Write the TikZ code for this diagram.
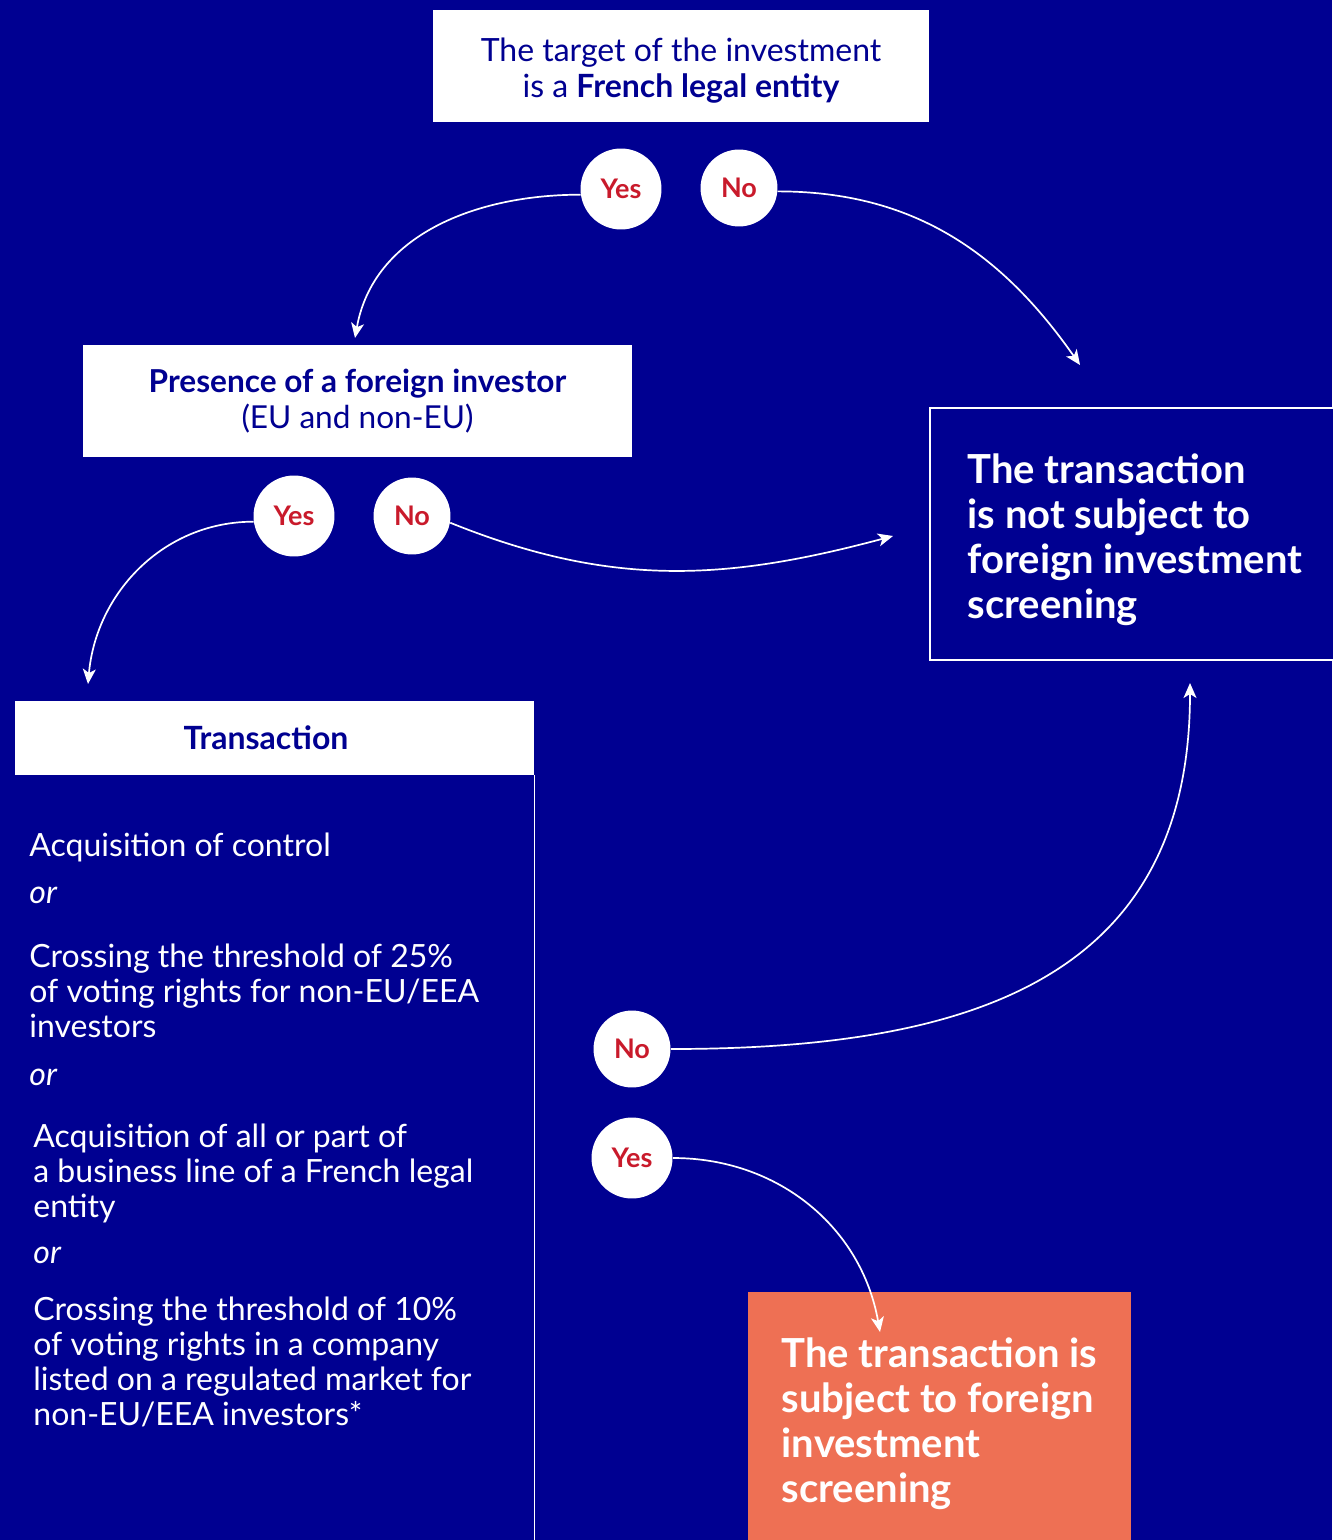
\documentclass[tikz,border=0pt]{standalone}
\usepackage{fontspec}
\setmainfont{Lato}
\usetikzlibrary{arrows.meta, positioning}
\definecolor{navybg}{HTML}{000091}
\definecolor{answred}{HTML}{C91A2B}
\definecolor{coralfill}{HTML}{EE7054}
\tikzset{
  qbox/.style   = {rectangle, fill=white, text=navybg, align=center, inner sep=0pt},
  answer/.style = {circle, fill=white, text=answred, font=\fontsize{13.5}{15}\selectfont\bfseries, inner sep=6.5pt},
  outbox/.style = {rectangle, align=left, text=white, inner xsep=16pt, font=\fontsize{20}{22.5}\selectfont\bfseries},
  crit/.style   = {anchor=base west, align=left, inner sep=0pt, text=white, font=\fontsize{16}{17.5}\selectfont},
  orword/.style = {crit, font=\fontsize{16}{17.5}\selectfont\itshape},
  flow/.style   = {-{Stealth[length=7.5pt, width=6.5pt, inset=2pt]}, draw=white, line width=0.85pt},
}

\begin{document}
\begin{tikzpicture}[x=0.5pt, y=0.5pt]
	\fill[navybg] (0,0) rectangle (1332,-1540);
	\useasboundingbox (0,0) rectangle (1332,-1540);
	\node[qbox, minimum width=248pt, minimum height=56pt, font=\fontsize{16}{18}\selectfont] (target) at (681,-66) {\rule{0pt}{16pt}The target of the investment\\is a \textbf{French legal entity}};
	\node[qbox, minimum width=274.5pt, minimum height=56pt, font=\fontsize{15.8}{18}\selectfont] (presence) at (357.5,-401) {\textbf{Presence of a foreign investor}\\(EU and non-EU)};
	\node[qbox, minimum width=259.5pt, minimum height=37pt, font=\fontsize{16}{18}\selectfont\bfseries] (trans) at (274.5,-738) {Transaction\hspace{8.5pt}};
	\node[outbox, draw=white, line width=0.75pt, fill=navybg, minimum width=205pt, minimum height=126pt] (notsubj) at (1135,-534) {\rule{0pt}{21pt}The transaction\\is not subject to\\foreign investment\\screening};
	\node[outbox, fill=coralfill, minimum width=191.5pt, minimum height=132pt] (subj) at (939.5,-1424) {The transaction is\\subject to foreign\\investment\\screening};
	\draw[white, line width=0.75pt] (trans.south east) -- (trans.south east |- 0,-1540);
	\node[crit] (acqctrl) at (29,-856) {Acquisition of control};
	\node[orword] (orA) at (29,-903) {or};
	\node[crit] (cross25) at (29,-1037) {Crossing the threshold of 25\%\\of voting rights for non-EU/EEA\\investors};
	\node[orword] (orB) at (29,-1085) {or};
	\node[crit] (bizline) at (33,-1217) {Acquisition of all or part of\\a business line of a French legal\\entity};
	\node[orword] (orC) at (33,-1263) {or};
	\node[crit] (cross10) at (33,-1425) {Crossing the threshold of 10\%\\of voting rights in a company\\listed on a regulated market for\\non-EU/EEA investors*};
	\node[answer] (yesA) at (621,-189) {Yes};
	\node[answer] (noA) at (739,-188) {No};
	\node[answer] (yesB) at (294,-516) {Yes};
	\node[answer] (noB) at (412,-516) {No};
	\node[answer] (noC) at (632,-1049) {No};
	\node[answer] (yesC) at (632,-1158) {Yes};
	\coordinate (tipA) at (355,-338);
	\coordinate (tipB) at (1080,-365);
	\coordinate (tipC) at (88,-684);
	\coordinate (tipD) at (893,-536);
	\coordinate (tipE) at (1190,-683);
	\coordinate (tipF) at (880,-1332);
	\foreach \s/\t/\o/\i/\l in {yesA.188/tipA/180/80/1, noA.355/tipB/0/125/1, yesB.188/tipC/180/85/1, noB.350/tipD/-22/195/1, noC.0/tipE/0/-90/1.2, yesC.0/tipF/0/100/1}{\draw[flow] (\s) to[out=\o, in=\i, looseness=\l] (\t);}
\end{tikzpicture}
\end{document}
